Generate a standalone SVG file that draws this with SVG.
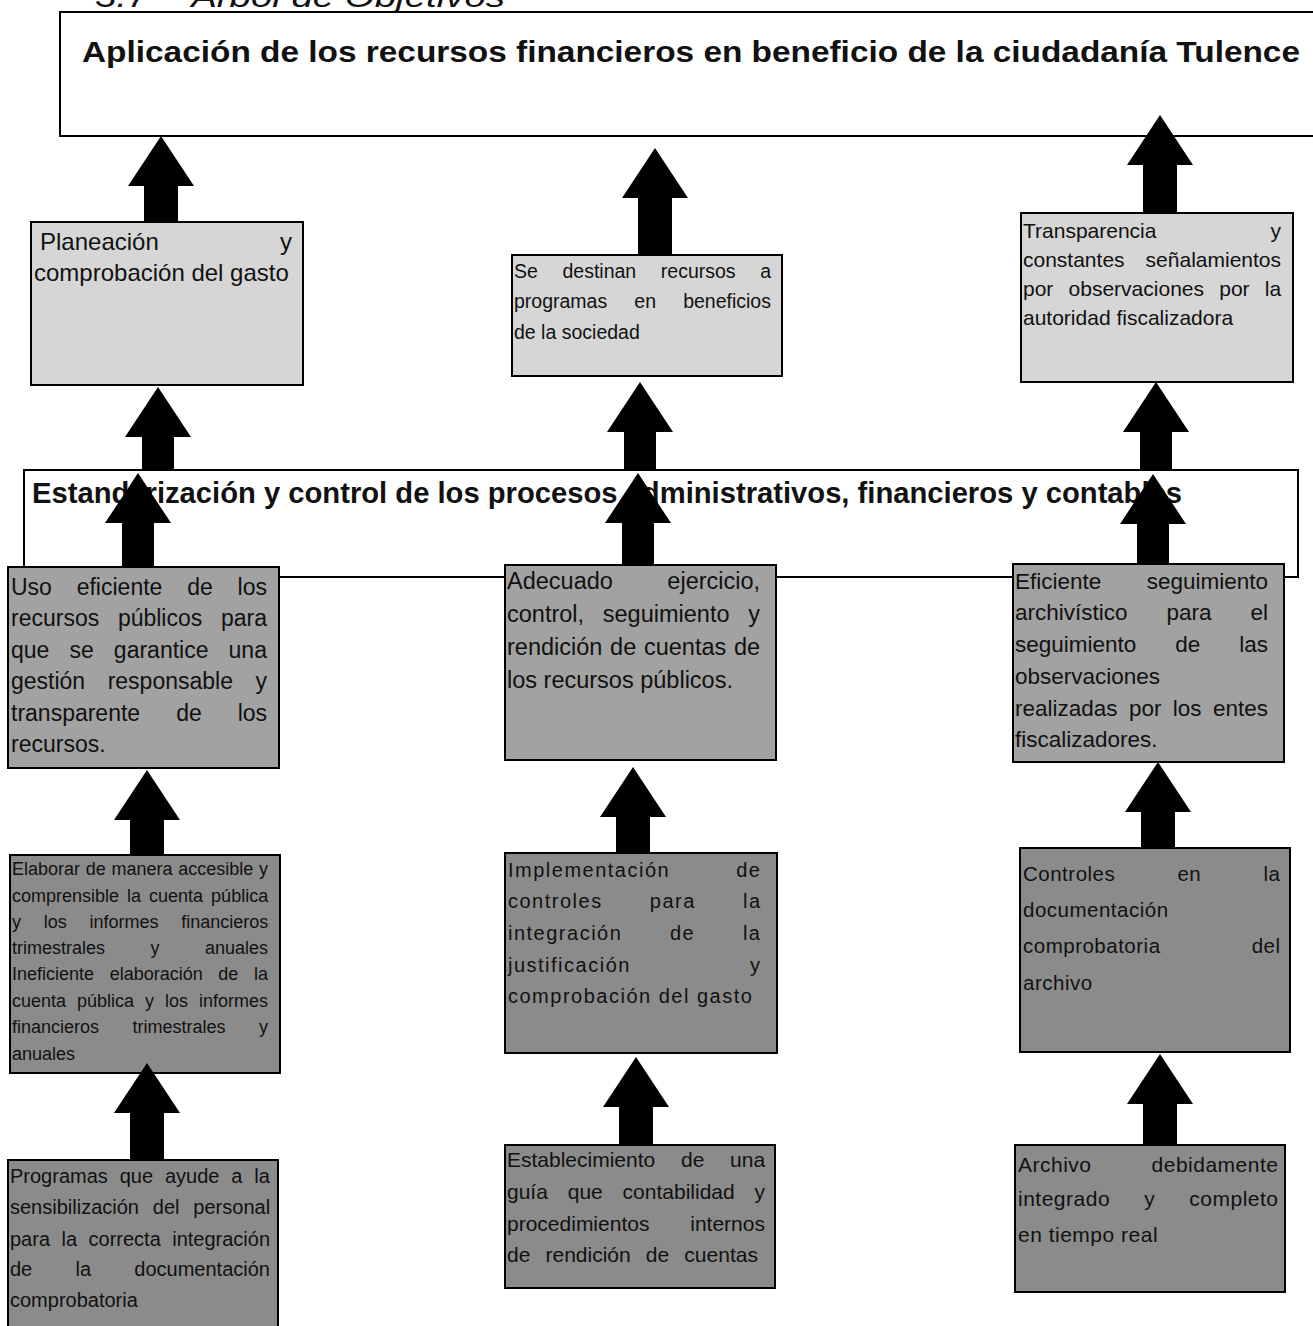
<svg xmlns="http://www.w3.org/2000/svg" width="1313" height="1326" viewBox="0 0 1313 1326">
<style>
.bg{fill:#fff}
.box{stroke:#000;stroke-width:2}
.w{fill:#fff}
.g1{fill:#d6d6d6}
.g2{fill:#a2a2a2}
.g3{fill:#8b8b8b}
.t{font-family:"Liberation Sans",Arial,sans-serif;fill:#111}
.h{font-weight:bold;font-size:29px}
.arr{fill:#000}
</style>
<rect class="bg" x="0" y="0" width="1313" height="1326"/>
<text class="t" x="95" y="7" font-size="30" font-style="italic" textLength="410" lengthAdjust="spacingAndGlyphs">3.7 – Árbol de Objetivos</text>

<g id="goal">
<rect class="box w" x="60" y="12" width="1270" height="124"/>
<text class="t h" x="82" y="62" textLength="1218" lengthAdjust="spacingAndGlyphs">Aplicación de los recursos financieros en beneficio de la ciudadanía Tulence</text>
</g>

<g id="plan">
<rect class="box g1" x="31" y="222" width="272" height="163"/>
<text class="t" font-size="24" x="40" y="250">Planeación</text>
<text class="t" font-size="24" x="292" y="250" text-anchor="end">y</text>
<text class="t" font-size="24" x="34" y="281">comprobación del gasto</text>
</g>

<g id="destinan">
<rect class="box g1" x="512" y="255" width="270" height="121"/>
<text class="t" font-size="19.5" x="514" y="278" word-spacing="19.2">Se destinan recursos a</text>
<text class="t" font-size="19.5" x="514" y="308" word-spacing="21.7">programas en beneficios</text>
<text class="t" font-size="19.5" x="514" y="339">de la sociedad</text>
</g>

<g id="transparencia">
<rect class="box g1" x="1021" y="213" width="272" height="169"/>
<text class="t" font-size="21" x="1023" y="238">Transparencia</text>
<text class="t" font-size="21" x="1281" y="238" text-anchor="end">y</text>
<text class="t" font-size="21" x="1023" y="267" word-spacing="15.2">constantes señalamientos</text>
<text class="t" font-size="21" x="1023" y="296" word-spacing="9.4">por observaciones por la</text>
<text class="t" font-size="21" x="1023" y="325">autoridad fiscalizadora</text>
</g>

<g id="estandarizacion">
<rect class="box w" x="24" y="470" width="1274" height="107"/>
<text class="t h" x="32" y="503" textLength="1150" lengthAdjust="spacingAndGlyphs">Estandarización y control de los procesos administrativos, financieros y contables</text>
</g>

<g id="uso">
<rect class="box g2" x="8" y="567" width="271" height="201"/>
<text class="t" font-size="23" x="11" y="595" word-spacing="18.4">Uso eficiente de los</text>
<text class="t" font-size="23" x="11" y="626" word-spacing="12.3">recursos públicos para</text>
<text class="t" font-size="23" x="11" y="658" word-spacing="13.7">que se garantice una</text>
<text class="t" font-size="23" x="11" y="689" word-spacing="16.1">gestión responsable y</text>
<text class="t" font-size="23" x="11" y="721" word-spacing="29.6">transparente de los</text>
<text class="t" font-size="23" x="11" y="752">recursos.</text>
</g>

<g id="adecuado">
<rect class="box g2" x="505" y="565" width="271" height="195"/>
<text class="t" font-size="23.5" x="507" y="589" word-spacing="48">Adecuado ejercicio,</text>
<text class="t" font-size="23.5" x="507" y="622" word-spacing="12.2">control, seguimiento y</text>
<text class="t" font-size="23.5" x="507" y="655" word-spacing="1.2">rendición de cuentas de</text>
<text class="t" font-size="23.5" x="507" y="688">los recursos públicos.</text>
</g>

<g id="eficiente">
<rect class="box g2" x="1013" y="564" width="271" height="198"/>
<text class="t" font-size="22.5" x="1015" y="589" word-spacing="39.2">Eficiente seguimiento</text>
<text class="t" font-size="22.5" x="1015" y="620" word-spacing="32.7">archivístico para el</text>
<text class="t" font-size="22.5" x="1015" y="652" word-spacing="32.7">seguimiento de las</text>
<text class="t" font-size="22.5" x="1015" y="684">observaciones</text>
<text class="t" font-size="22.5" x="1015" y="716" word-spacing="5.1">realizadas por los entes</text>
<text class="t" font-size="22.5" x="1015" y="747">fiscalizadores.</text>
</g>

<g id="elaborar">
<rect class="box g3" x="10" y="855" width="270" height="218"/>
<text class="t" font-size="18" x="12" y="875" word-spacing="0.7">Elaborar de manera accesible y</text>
<text class="t" font-size="18" x="12" y="902" word-spacing="3">comprensible la cuenta pública</text>
<text class="t" font-size="18" x="12" y="928" word-spacing="17.7">y los informes financieros</text>
<text class="t" font-size="18" x="12" y="954" word-spacing="40.5">trimestrales y anuales</text>
<text class="t" font-size="18" x="12" y="980" word-spacing="10.6">Ineficiente elaboración de la</text>
<text class="t" font-size="18" x="12" y="1007" word-spacing="6">cuenta pública y los informes</text>
<text class="t" font-size="18" x="12" y="1033" word-spacing="28.5">financieros trimestrales y</text>
<text class="t" font-size="18" x="12" y="1060">anuales</text>
</g>

<g id="implementacion">
<rect class="box g3" x="505" y="853" width="272" height="200"/>
<text class="t" font-size="20" letter-spacing="1.5" x="508" y="877" word-spacing="59">Implementación de</text>
<text class="t" font-size="20" letter-spacing="1.5" x="508" y="908" word-spacing="40.1">controles para la</text>
<text class="t" font-size="20" letter-spacing="1.5" x="508" y="940" word-spacing="40.6">integración de la</text>
<text class="t" font-size="20" letter-spacing="1.5" x="508" y="972" word-spacing="112">justificación y</text>
<text class="t" font-size="20" letter-spacing="1.5" x="508" y="1003">comprobación del gasto</text>
</g>

<g id="controles">
<rect class="box g3" x="1020" y="848" width="270" height="204"/>
<text class="t" font-size="20.5" letter-spacing="0.5" x="1023" y="881" word-spacing="56">Controles en la</text>
<text class="t" font-size="20.5" letter-spacing="0.5" x="1023" y="917">documentación</text>
<text class="t" font-size="20.5" letter-spacing="0.5" x="1023" y="953" word-spacing="84.9">comprobatoria del</text>
<text class="t" font-size="20.5" letter-spacing="0.5" x="1023" y="990">archivo</text>
</g>

<g id="programas">
<rect class="box g3" x="8" y="1160" width="270" height="175"/>
<text class="t" font-size="20" x="10" y="1183" word-spacing="6.3">Programas que ayude a la</text>
<text class="t" font-size="20" x="10" y="1214" word-spacing="8.3">sensibilización del personal</text>
<text class="t" font-size="20" x="10" y="1246" word-spacing="5.9">para la correcta integración</text>
<text class="t" font-size="20" x="10" y="1276" word-spacing="37.7">de la documentación</text>
<text class="t" font-size="20" x="10" y="1307">comprobatoria</text>
</g>

<g id="establecimiento">
<rect class="box g3" x="505" y="1145" width="270" height="143"/>
<text class="t" font-size="21" x="507" y="1167" word-spacing="19.9">Establecimiento de una</text>
<text class="t" font-size="21" x="507" y="1199" word-spacing="14">guía que contabilidad y</text>
<text class="t" font-size="21" x="507" y="1231" word-spacing="35">procedimientos internos</text>
<text class="t" font-size="21" x="507" y="1262" word-spacing="9.3">de rendición de cuentas</text>
</g>

<g id="archivo">
<rect class="box g3" x="1015" y="1145" width="270" height="147"/>
<text class="t" font-size="21" letter-spacing="0.5" x="1018" y="1172" word-spacing="53.7">Archivo debidamente</text>
<text class="t" font-size="21" letter-spacing="0.5" x="1018" y="1206" word-spacing="27.8">integrado y completo</text>
<text class="t" font-size="21" letter-spacing="0.5" x="1018" y="1242">en tiempo real</text>
</g>

<g id="connectors" class="arr">
<path d="M161,136 L194,186 L178,186 L178,223 L144,223 L144,186 L128,186 Z"/>
<path d="M655,148 L688,198 L672,198 L672,256 L638,256 L638,198 L622,198 Z"/>
<path d="M1160,115 L1193,165 L1177,165 L1177,214 L1143,214 L1143,165 L1127,165 Z"/>
<path d="M158,387 L191,437 L174,437 L174,471 L142,471 L142,437 L125,437 Z"/>
<path d="M640,382 L673,432 L656,432 L656,471 L624,471 L624,432 L607,432 Z"/>
<path d="M1156,382 L1189,432 L1172,432 L1172,471 L1140,471 L1140,432 L1123,432 Z"/>
<path d="M138,473 L171,523 L154,523 L154,568 L122,568 L122,523 L105,523 Z"/>
<path d="M638,473 L671,523 L654,523 L654,566 L622,566 L622,523 L605,523 Z"/>
<path d="M1153,474 L1186,524 L1169,524 L1169,565 L1137,565 L1137,524 L1120,524 Z"/>
<path d="M147,770 L180,820 L164,820 L164,856 L130,856 L130,820 L114,820 Z"/>
<path d="M633,767 L666,817 L650,817 L650,854 L616,854 L616,817 L600,817 Z"/>
<path d="M1158,762 L1191,812 L1175,812 L1175,849 L1141,849 L1141,812 L1125,812 Z"/>
<path d="M147,1063 L180,1113 L164,1113 L164,1161 L130,1161 L130,1113 L114,1113 Z"/>
<path d="M636,1057 L669,1107 L653,1107 L653,1146 L619,1146 L619,1107 L603,1107 Z"/>
<path d="M1160,1054 L1193,1104 L1177,1104 L1177,1146 L1143,1146 L1143,1104 L1127,1104 Z"/>
</g>
</svg>
